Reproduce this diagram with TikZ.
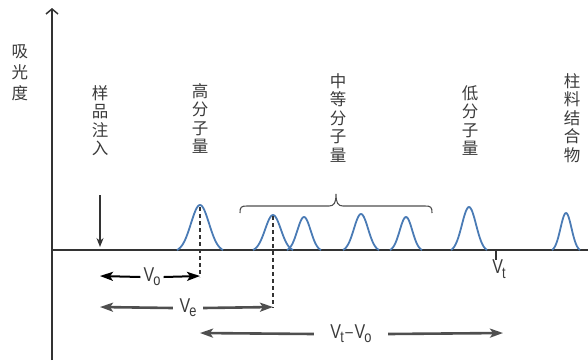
\documentclass[tikz,border=0pt]{standalone}
\usepackage{fontspec}
\setmainfont{Liberation Sans}
\newfontfamily\cjk{Noto Sans CJK SC}
\newfontfamily\vfont[FakeStretch=0.8]{Liberation Sans}
\usetikzlibrary{arrows.meta}
\definecolor{peakblue}{HTML}{4A7BB5}
\definecolor{axisgray}{HTML}{333333}
\definecolor{arrgray}{HTML}{4F4F4F}
\definecolor{txtgray}{HTML}{3A3A3A}
\newcommand\peakat[3]{%
  \draw[peakline] plot[domain=-#2:#2,samples=41]
    ({#1+\x},{250-#3*(exp(-3.24*\x*\x/(#2*#2))-0.0392)/0.9608});}
\newcommand\Vlab[1]{V\kern-0.04em\raisebox{-0.4ex}{\fontsize{16}{16}\selectfont #1}}
\begin{document}
\begin{tikzpicture}[x=1pt,y=-1pt,
  vlab/.style={font=\cjk\fontsize{16.5}{18.5}\selectfont, align=center, text=txtgray, inner sep=0pt, anchor=north},
  peakline/.style={draw=peakblue, line width=1.8pt, line join=round},
  axisline/.style={draw=axisgray, line width=1.3pt},
  dashline/.style={draw=axisgray, line width=1.2pt, dash pattern=on 4pt off 3pt},
  dimarrow/.style={line width=2pt, -{Stealth[length=13pt,width=9pt,inset=3pt]}},
  grayarrow/.style={dimarrow, line width=2.6pt, draw=arrgray, fill=arrgray},
  vtext/.style={font=\vfont\fontsize{20}{20}\selectfont, text=txtgray, inner sep=1pt}]
\useasboundingbox (0,0) rectangle (588,360);
% axes
\coordinate (ybot) at (52,360);
\coordinate (ytop) at (52,8);
\coordinate (xl) at (52,250);
\coordinate (xr) at (588,250);
\draw[axisline, -{Straight Barb[length=5pt,width=12pt,line width=1.5pt]}] (ybot) -- (ytop);
\draw[axisline] (xl) -- (xr);
% labels
\node[vlab, font=\cjk\fontsize{16.5}{21}\selectfont] (absorb) at (20,45) {吸\\光\\度};
\node[vlab] (inj) at (100,85) {样\\品\\注\\入};
\node[vlab] (high) at (200,83) {高\\分\\子\\量};
\node[vlab] (mid) at (338,73) {中\\等\\分\\子\\量};
\node[vlab] (low) at (470,85) {低\\分\\子\\量};
\node[vlab] (bound) at (572,73) {柱\\料\\结\\合\\物};
% injection arrow
\coordinate (injtop) at (100,195);
\coordinate (injbot) at (100,247);
\draw[axisline, -{Stealth[length=9pt,width=7pt]}] (injtop) -- (injbot);
% peaks
\peakat{200}{23}{45}
\peakat{273}{20}{35}
\peakat{304}{17}{33}
\peakat{361}{18}{36}
\peakat{406}{16}{33}
\peakat{469}{18}{43}
\peakat{566}{14}{37}
% brace
\draw[draw=arrgray, line width=1.1pt]
  (240,213) .. controls (240,207) and (241,206) .. (247,206) -- (329,206)
  .. controls (334,206) and (336,203) .. (336,194)
  .. controls (336,203) and (338,206) .. (343,206) -- (425,206)
  .. controls (431,206) and (432,207) .. (432,213);
% ticks
\coordinate (vta) at (496,250); \coordinate (vtb) at (496,260);
\draw[axisline] (vta) -- (vtb);
\node[vtext, anchor=north] (vt) at (499,259) {\Vlab{t}};
% dashed drops
\coordinate (d1top) at (200,207); \coordinate (d1bot) at (200,277);
\coordinate (d2top) at (273,216); \coordinate (d2bot) at (273,308);
\draw[dashline] (d1top) -- (d1bot);
\draw[dashline] (d2top) -- (d2bot);
% Vo arrow
\coordinate (voL) at (100,276); \coordinate (voR) at (200,276);
\node[vtext, inner xsep=3pt] (vo) at (152,277) {\Vlab{o}};
\draw[dimarrow, draw=black, fill=black] (vo.west) -- (voL);
\draw[dimarrow, draw=black, fill=black] (vo.east) -- (voR);
% Ve arrow
\coordinate (veL) at (100,307); \coordinate (veR) at (273,307);
\node[vtext, minimum width=30pt] (ve) at (188,308) {\Vlab{e}};
\draw[grayarrow] (ve.west) -- (veL);
\draw[grayarrow] (ve.east) -- (veR);
% Vt - Vo arrow
\coordinate (vtoL) at (200,333); \coordinate (vtoR) at (503,333);
\node[vtext, minimum width=74pt] (vto) at (351,334) {\Vlab{t}\kern0.08em{\fontsize{17}{17}\selectfont\raisebox{0.1ex}{–}}\kern0.08em\Vlab{o}};
\draw[grayarrow] (vto.west) -- (vtoL);
\draw[grayarrow] (vto.east) -- (vtoR);
\end{tikzpicture}
\end{document}
